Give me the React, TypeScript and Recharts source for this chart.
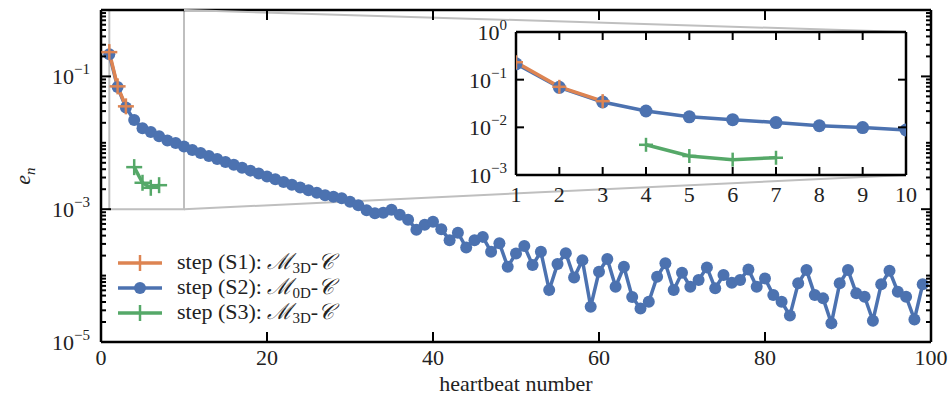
import React from 'react';
import { LineChart, Line, XAxis, YAxis, ReferenceLine, ReferenceArea, Legend } from 'recharts';

// heartbeat index 1..99 (step S2 runs the whole range)
const heartbeats = Array.from({ length: 99 }, (_, i) => i + 1);

// step (S2): M_0D-C error per heartbeat
const stepS2 = [
  0.215, 0.069, 0.034, 0.022, 0.0166, 0.0145, 0.0126, 0.0108, 0.0099, 0.0088,
  0.00776, 0.007, 0.00631, 0.00569, 0.00513, 0.00466, 0.00421, 0.00381, 0.00344, 0.00311,
  0.00283, 0.00257, 0.00233, 0.00212, 0.00193, 0.00177, 0.00162, 0.00154, 0.00146, 0.0013,
  0.00115, 0.000966, 0.000871, 0.000885, 0.000982, 0.000826, 0.000695, 0.000492, 0.000585, 0.000649,
  0.0005, 0.000342, 0.000443, 0.000264, 0.000342, 0.000383, 0.000228, 0.000308, 0.000136, 0.000216,
  0.000278, 0.000144, 0.000228, 0.0000605, 0.000149, 0.000218, 0.0000933, 0.000171, 0.000034, 0.000114,
  0.000178, 0.0000679, 0.000136, 0.0000475, 0.0000319, 0.0000404, 0.0000959, 0.000153, 0.0000605, 0.00011,
  0.0000679, 0.0000855, 0.000133, 0.0000643, 0.000102, 0.000078, 0.0000855, 0.000124, 0.0000679, 0.0000908,
  0.0000509, 0.0000404, 0.000025, 0.0000764, 0.000121, 0.0000509, 0.0000454, 0.0000191, 0.0000764, 0.000121,
  0.000054, 0.000048, 0.0000209, 0.0000738, 0.000118, 0.0000571, 0.000048, 0.0000219, 0.0000738,
];

// step (S1): heartbeats 1..3
const stepS1Start = 1;
const stepS1 = [0.232, 0.0708, 0.0354];

// step (S3): heartbeats 4..7
const stepS3Start = 4;
const stepS3 = [0.0043, 0.0025, 0.0021, 0.0023];

const X_TICKS = [0, 20, 40, 60, 80, 100];
const Y_MAJOR = [1e-5, 1e-3, 1e-1];
const Y_MAJOR_EXP = ['\u22125', '\u22123', '\u22121'];
const INSET_X_TICKS = [1, 2, 3, 4, 5, 6, 7, 8, 9, 10];
const INSET_Y_TICKS = [1e-3, 1e-2, 1e-1, 1];
const INSET_Y_EXP = ['\u22123', '\u22122', '\u22121', '0'];

const LEGEND_ITEMS = [
  { key: 's1', step: 'S1', sub: '3D', color: '#dd8452', marker: 'plus' },
  { key: 's2', step: 'S2', sub: '0D', color: '#4c72b0', marker: 'circle' },
  { key: 's3', step: 'S3', sub: '3D', color: '#55a868', marker: 'plus' },
];

const BLUE = '#4c72b0';
const ORANGE = '#dd8452';
const GREEN = '#55a868';
const GRAY = '#bfbfbf';
const FONT = '"Liberation Serif", "DejaVu Serif", serif';

const W = 951;
const H = 406;
const PLOT = { left: 101, right: 931, top: 10, bottom: 342 };
const INSET = { left: 516, right: 906, top: 32, bottom: 175 };
const INSET_BOX = { left: INSET.left - 60, top: INSET.top - 14, right: INSET.right + 30, bottom: INSET.bottom + 34 };
const X_DOMAIN = [0, 100];
const Y_DOMAIN = [1e-5, 1];

// minor log ticks 2..9 x 10^k plus the decades
const yTicksAll: number[] = [];
for (let k = -5; k < 0; k++) {
  for (let m = 1; m <= 9; m++) yTicksAll.push(Number((m * Math.pow(10, k)).toPrecision(3)));
}
yTicksAll.push(1);

const rows = heartbeats.map((n, i) => ({
  n,
  s2: stepS2[i],
  s1: n >= stepS1Start && n < stepS1Start + stepS1.length ? stepS1[n - stepS1Start] : null,
  s3: n >= stepS3Start && n < stepS3Start + stepS3.length ? stepS3[n - stepS3Start] : null,
}));
const insetRows = rows.filter((r) => r.n <= 10);

// pixel -> data for the zoom connectors
const pxToX = (px: number) =>
  X_DOMAIN[0] + ((px - PLOT.left) / (PLOT.right - PLOT.left)) * (X_DOMAIN[1] - X_DOMAIN[0]);
const pxToY = (py: number) => {
  const lo = Math.log10(Y_DOMAIN[0]);
  const hi = Math.log10(Y_DOMAIN[1]);
  return Math.pow(10, hi - ((py - PLOT.top) / (PLOT.bottom - PLOT.top)) * (hi - lo));
};

const isMajorY = (v: number) => Y_MAJOR.findIndex((m) => Math.abs(m - v) / m < 1e-6);

const MainYTick = (props: any) => {
  const { y, payload } = props;
  const idx = isMajorY(payload.value);
  const len = idx >= 0 ? 10 : 5;
  return (
    <g>
      <line x1={PLOT.left} x2={PLOT.left + len} y1={y} y2={y} stroke="#000" strokeWidth={2} />
      <line x1={PLOT.right - len} x2={PLOT.right} y1={y} y2={y} stroke="#000" strokeWidth={2} />
      {idx >= 0 && (
        <text x={PLOT.left - 11} y={y + 8} textAnchor="end" fontFamily={FONT} fontSize={22} fill="#222">
          10<tspan dy={-10} fontSize={15}>{Y_MAJOR_EXP[idx]}</tspan>
        </text>
      )}
    </g>
  );
};

const MainXTick = (props: any) => {
  const { x, payload } = props;
  return (
    <g>
      <line x1={x} x2={x} y1={PLOT.bottom} y2={PLOT.bottom - 10} stroke="#000" strokeWidth={2} />
      <line x1={x} x2={x} y1={PLOT.top} y2={PLOT.top + 10} stroke="#000" strokeWidth={2} />
      <text x={x} y={PLOT.bottom + 23} textAnchor="middle" fontFamily={FONT} fontSize={22} fill="#222">
        {payload.value}
      </text>
    </g>
  );
};

const InsetXTick = (props: any) => {
  const { x, payload } = props;
  const top = INSET.top - INSET_BOX.top;
  const bottom = INSET.bottom - INSET_BOX.top;
  return (
    <g>
      <line x1={x} x2={x} y1={bottom} y2={bottom - 8} stroke="#000" strokeWidth={2} />
      <line x1={x} x2={x} y1={top} y2={top + 8} stroke="#000" strokeWidth={2} />
      <text x={x} y={bottom + 27} textAnchor="middle" fontFamily={FONT} fontSize={22} fill="#222">
        {payload.value}
      </text>
    </g>
  );
};

// inset y tick in the inset chart's own coordinates
const InsetYTick = (props: any) => {
  const { y, payload } = props;
  const idx = INSET_Y_TICKS.findIndex((m) => Math.abs(m - payload.value) / m < 1e-6);
  const l = INSET.left - INSET_BOX.left;
  const r = INSET.right - INSET_BOX.left;
  return (
    <g>
      <line x1={l} x2={l + 8} y1={y} y2={y} stroke="#000" strokeWidth={2} />
      <line x1={r - 8} x2={r} y1={y} y2={y} stroke="#000" strokeWidth={2} />
      <text x={l - 9} y={y + 8} textAnchor="end" fontFamily={FONT} fontSize={22} fill="#222">
        10<tspan dy={-10} fontSize={15}>{INSET_Y_EXP[idx]}</tspan>
      </text>
    </g>
  );
};

const PlusDot = (color: string, arm: number) => (props: any) => {
  const { cx, cy, index } = props;
  if (cx == null || cy == null || props.value == null) return <g key={index} />;
  return (
    <g key={index}>
      <line x1={cx - arm} x2={cx + arm} y1={cy} y2={cy} stroke={color} strokeWidth={2.5} />
      <line x1={cx} x2={cx} y1={cy - arm} y2={cy + arm} stroke={color} strokeWidth={2.5} />
    </g>
  );
};

const LegendIcon = ({ color, marker }: { color: string; marker: string }) => (
  <svg width={48} height={22} style={{ display: 'block', flex: 'none' }}>
    <line x1={2} x2={46} y1={11} y2={11} stroke={color} strokeWidth={3.5} />
    {marker === 'circle' ? (
      <circle cx={24} cy={11} r={6} fill={color} />
    ) : (
      <line x1={24} x2={24} y1={3} y2={19} stroke={color} strokeWidth={2.5} />
    )}
  </svg>
);

const renderLegend = () => (
  <div style={{ fontFamily: FONT, fontSize: 22, color: '#222', lineHeight: '25px' }}>
    {LEGEND_ITEMS.map((item) => (
      <div key={item.key} style={{ display: 'flex', alignItems: 'center', height: 25, whiteSpace: 'nowrap' }}>
        <LegendIcon color={item.color} marker={item.marker} />
        <span style={{ marginLeft: 13 }}>
          step ({item.step}):&nbsp;
          <span style={{ fontStyle: 'italic' }}>{'\u2133'}</span>
          <span style={{ fontSize: 15, position: 'relative', top: 4 }}>{item.sub}</span>
          -<span style={{ fontStyle: 'italic' }}>{'\uD835\uDC9E'}</span>
        </span>
      </div>
    ))}
  </div>
);

const EnLabel = () => (
  <text x={30} y={176} transform="rotate(-90, 30, 176)" textAnchor="middle" fontFamily={FONT} fontSize={22} fill="#222">
    <tspan fontStyle="italic">e</tspan>
    <tspan fontStyle="italic" fontSize={15} dy={5}>n</tspan>
  </text>
);

export default function App() {
  const connX = pxToX(INSET.right);
  return (
    <div style={{ position: 'absolute', left: 0, top: 0, width: W, height: H, background: '#fff' }}>
      <LineChart
        width={W}
        height={H}
        data={rows}
        margin={{ top: PLOT.top, right: W - PLOT.right, bottom: 0, left: 0 }}
      >
        <XAxis
          dataKey="n"
          type="number"
          domain={X_DOMAIN}
          ticks={X_TICKS}
          interval={0}
          height={H - PLOT.bottom}
          axisLine={{ stroke: '#000', strokeWidth: 2.5 }}
          tickLine={false}
          tick={MainXTick}
          label={{ value: 'heartbeat number', position: 'insideBottom', offset: 15, fill: '#222', fontSize: 22, fontFamily: FONT }}
        />
        <YAxis
          type="number"
          scale="log"
          domain={Y_DOMAIN}
          ticks={yTicksAll}
          interval={0}
          width={PLOT.left}
          allowDataOverflow
          axisLine={{ stroke: '#000', strokeWidth: 2.5 }}
          tickLine={false}
          tick={MainYTick}
          label={{ content: EnLabel }}
        />
        <ReferenceLine y={Y_DOMAIN[1]} stroke="#000" strokeWidth={2.5} />
        <ReferenceLine x={X_DOMAIN[1]} stroke="#000" strokeWidth={2.5} />
        <ReferenceArea x1={1} x2={10} y1={1e-3} y2={1} fill="none" stroke={GRAY} strokeWidth={2} />
        <ReferenceLine segment={[{ x: 10, y: 1 }, { x: connX, y: pxToY(INSET.top) }]} stroke={GRAY} strokeWidth={2} />
        <ReferenceLine segment={[{ x: 10, y: 1e-3 }, { x: connX, y: pxToY(INSET.bottom) }]} stroke={GRAY} strokeWidth={2} />
        <Line
          dataKey="s2"
          stroke={BLUE}
          strokeWidth={3.5}
          dot={{ r: 6, fill: BLUE, stroke: 'none' }}
          isAnimationActive={false}
        />
        <Line dataKey="s1" stroke={ORANGE} strokeWidth={3.5} dot={PlusDot(ORANGE, 8)} isAnimationActive={false} />
        <Line dataKey="s3" stroke={GREEN} strokeWidth={3.5} dot={PlusDot(GREEN, 8)} isAnimationActive={false} />
        <Legend
          layout="vertical"
          align="center"
          verticalAlign="middle"
          content={renderLegend}
          wrapperStyle={{ left: 116, top: 250, width: 320 }}
        />
      </LineChart>

      <div style={{ position: 'absolute', left: INSET_BOX.left, top: INSET_BOX.top }}>
        <LineChart
          width={INSET_BOX.right - INSET_BOX.left}
          height={INSET_BOX.bottom - INSET_BOX.top}
          data={insetRows}
          margin={{ top: INSET.top - INSET_BOX.top, right: INSET_BOX.right - INSET.right, bottom: 0, left: 0 }}
        >
          <XAxis
            dataKey="n"
            type="number"
            domain={[1, 10]}
            ticks={INSET_X_TICKS}
            interval={0}
            height={INSET_BOX.bottom - INSET.bottom}
            allowDataOverflow
            axisLine={{ stroke: '#000', strokeWidth: 2.5 }}
            tickLine={false}
            tick={InsetXTick}
          />
          <YAxis
            type="number"
            scale="log"
            domain={[1e-3, 1]}
            ticks={INSET_Y_TICKS}
            interval={0}
            width={INSET.left - INSET_BOX.left}
            allowDataOverflow
            axisLine={{ stroke: '#000', strokeWidth: 2.5 }}
            tickLine={false}
            tick={InsetYTick}
          />
          <ReferenceLine y={1} stroke="#000" strokeWidth={2.5} />
          <ReferenceLine x={10} stroke="#000" strokeWidth={2.5} />
          <Line dataKey="s2" stroke={BLUE} strokeWidth={3.5} dot={{ r: 6.5, fill: BLUE, stroke: 'none' }} isAnimationActive={false} />
          <Line dataKey="s1" stroke={ORANGE} strokeWidth={3.5} dot={PlusDot(ORANGE, 7)} isAnimationActive={false} />
          <Line dataKey="s3" stroke={GREEN} strokeWidth={3.5} dot={PlusDot(GREEN, 7)} isAnimationActive={false} />
        </LineChart>
      </div>
    </div>
  );
}
